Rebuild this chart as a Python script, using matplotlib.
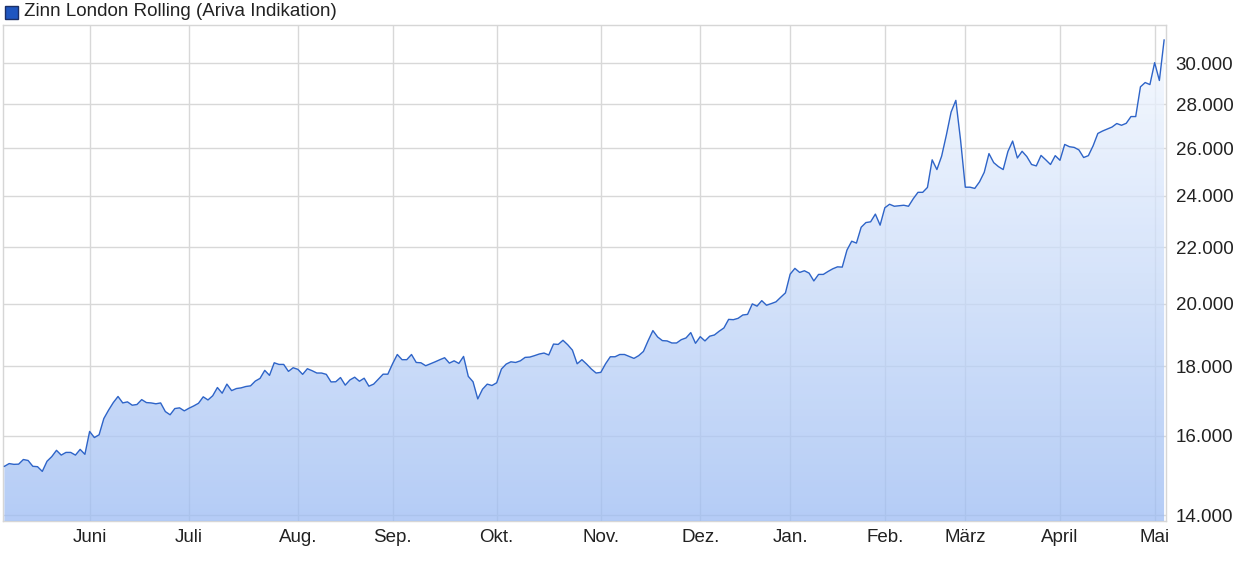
import numpy as np
import matplotlib
matplotlib.use('Agg')
import matplotlib.pyplot as plt
from matplotlib.colors import LinearSegmentedColormap
from matplotlib.ticker import FixedLocator, FuncFormatter, NullLocator
from matplotlib.patches import Rectangle

plt.rcParams['font.family'] = ['Liberation Sans', 'DejaVu Sans']

titel = 'Zinn London Rolling (Ariva Indikation)'

# Schlusskurse (Handelstage, Mai bis Mai)
kurse = [
    15200, 15270, 15250, 15255, 15375, 15350, 15200, 15190, 15070, 15330,
    15450, 15615, 15490, 15560, 15560, 15490, 15640, 15510, 16120, 15955,
    16030, 16475, 16710, 16925, 17100, 16915, 16945, 16850, 16870, 17010,
    16925, 16915, 16890, 16915, 16670, 16580, 16755, 16775, 16690, 16765,
    16830, 16905, 17090, 17000, 17120, 17360, 17195, 17460, 17270, 17330,
    17350, 17390, 17410, 17550, 17630, 17870, 17720, 18100, 18050, 18050,
    17840, 17950, 17900,
    17750, 17920, 17860, 17790, 17790, 17750, 17525, 17530, 17655, 17430,
    17585, 17665, 17545, 17635, 17400, 17460, 17605, 17755, 17755, 18070,
    18355, 18195, 18195, 18355, 18110, 18100, 18010, 18070, 18130, 18195,
    18255, 18090, 18160, 18080, 18295, 17690, 17530, 17030, 17310, 17460,
    17420, 17500, 17910, 18060, 18130, 18110, 18160, 18265, 18275, 18320,
    18370, 18400, 18340, 18680, 18670, 18800, 18660, 18490, 18070,
    18195, 18060, 17910, 17790, 17810, 18070, 18285, 18285, 18355, 18355,
    18295, 18235, 18320, 18450, 18790, 19110, 18905, 18790, 18780, 18715,
    18715, 18820, 18875, 19045, 18705, 18915, 18780, 18930, 18970, 19090,
    19195, 19475, 19465, 19510, 19620, 19640, 19990, 19915, 20100, 19945,
    20000, 20060, 20215, 20365, 21020, 21225, 21080, 21140, 21055, 20780,
    21010, 21010, 21115, 21210, 21280, 21270, 21890,
    22220, 22150, 22750, 22930,
    22960, 23260, 22830, 23510, 23650, 23570, 23590, 23610, 23570, 23870,
    24130, 24130, 24330, 25490, 25075, 25650, 26580, 27630, 28180, 26350,
    24340, 24340, 24290, 24560, 24960, 25760, 25370, 25200, 25075, 25850,
    26310, 25570, 25860, 25630, 25290, 25230, 25680, 25490, 25290, 25670,
    25470, 26160, 26060, 26030, 25920, 25590, 25670, 26100, 26650, 26760,
    26850, 26940, 27100, 27020, 27110, 27420, 27420, 28830, 29040, 28940,
    30030, 29140, 31200,
]

monate = ['Juni', 'Juli', 'Aug.', 'Sep.', 'Okt.', 'Nov.', 'Dez.', 'Jan.',
          'Feb.', 'März', 'April', 'Mai']
monat_idx = [18, 39, 62, 82, 104, 126, 147, 166, 186, 203, 223, 243]

y_ticks = [14000, 16000, 18000, 20000, 22000, 24000, 26000, 28000, 30000]

x = np.arange(len(kurse))
y = np.array(kurse, dtype=float)
ymin, ymax = 13860, 32000

W, H = 1240, 585
fig = plt.figure(figsize=(W / 100, H / 100), dpi=100)
ax = fig.add_axes([3 / W, 1 - 521 / H, (1166 - 3) / W, (521 - 25) / H])
ax.set_yscale('log')

# Verlauf unter der Kurve (leicht transparent, Gitter scheint durch)
cmap = LinearSegmentedColormap.from_list('fl', ['#9cbcf3', '#f6faff'])
grad = np.linspace(0, 1, 256).reshape(-1, 1)
im = ax.imshow(grad, extent=[0, 1, 0, 1], transform=ax.transAxes,
               origin='lower', cmap=cmap, aspect='auto', alpha=0.75, zorder=3)
poly = ax.fill_between(x, y, ymin, facecolor='none', edgecolor='none')
im.set_clip_path(poly.get_paths()[0], transform=ax.transData)

ax.plot(x, y, color='#2e64c8', lw=1.0, zorder=4)

ax.set_xlim(-0.3, len(kurse) - 1 + 0.4)
ax.set_ylim(ymin, ymax)

ax.xaxis.set_major_locator(FixedLocator(monat_idx))
ax.set_xticklabels(monate)
ax.yaxis.set_major_locator(FixedLocator(y_ticks))
ax.yaxis.set_minor_locator(NullLocator())
ax.yaxis.set_major_formatter(FuncFormatter(lambda v, p: f'{v:,.0f}'.replace(',', '.')))
ax.yaxis.tick_right()

ax.tick_params(axis='both', length=0, labelsize=13.5, colors='#222222')
ax.tick_params(axis='x', pad=6)
ax.tick_params(axis='y', pad=7)

ax.grid(True, color='#d8d8d8', lw=1)
for l in ax.get_xgridlines() + ax.get_ygridlines():
    l.set_zorder(2)

for s in ax.spines.values():
    s.set_color('#d6d6d6')
    s.set_linewidth(1)

# Kopfzeile mit Legendenkästchen
fig.patches.append(Rectangle((5 / W, 1 - 19 / H), 13 / W, 13 / H, transform=fig.transFigure,
                             facecolor='#1f56c0', edgecolor='#1b2f66', lw=1))
fig.text(24 / W, 1 - 12 / H, titel, fontsize=13.5, va='center', ha='left', color='#222222')

fig.savefig('out.png', dpi=100)
